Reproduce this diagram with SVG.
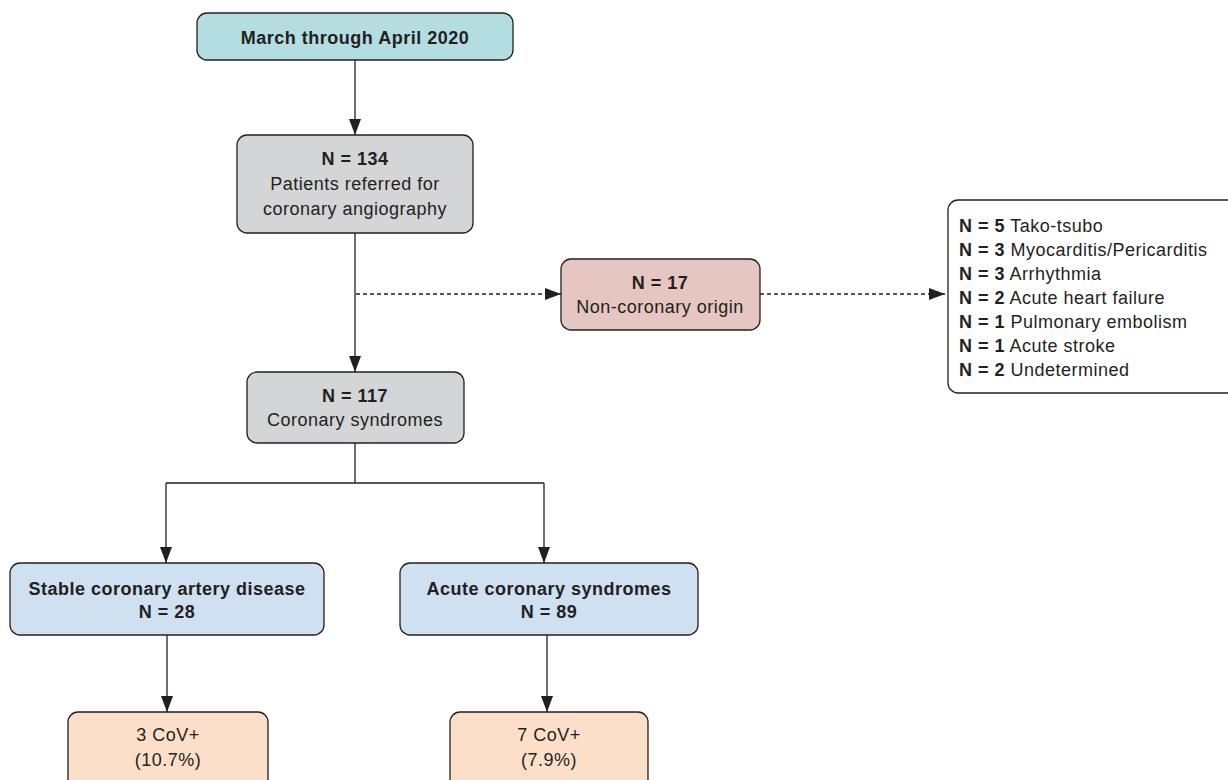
<svg xmlns="http://www.w3.org/2000/svg" width="1228" height="780" viewBox="0 0 1228 780">
<defs>
<marker id="ah" markerWidth="16" markerHeight="12" refX="16" refY="6" orient="auto" markerUnits="userSpaceOnUse">
<path d="M0,0 L16,6 L0,12 Z" fill="#231f20"/>
</marker>
<style>
.box{stroke:#231f20;stroke-width:1.3}
.t{font-family:"Liberation Sans",Arial,sans-serif;font-size:18px;letter-spacing:0.5px;fill:#231f20;text-anchor:middle}
.l{font-family:"Liberation Sans",Arial,sans-serif;font-size:18px;letter-spacing:0.5px;fill:#231f20}
.b{font-weight:bold}
.c{fill:none;stroke:#231f20;stroke-width:1.3}
.d{stroke-dasharray:4 3}
</style>
</defs>
<rect width="1228" height="780" fill="#fff"/>
<g id="connectors">
<path class="c" d="M355,60 V135" marker-end="url(#ah)"/>
<path class="c" d="M355,233 V372" marker-end="url(#ah)"/>
<path class="c d" d="M356,294 H561" marker-end="url(#ah)"/>
<path class="c d" d="M760,294 H945" marker-end="url(#ah)"/>
<path class="c" d="M355,443 V483"/>
<path class="c" d="M166,483 H544"/>
<path class="c" d="M166,483 V563" marker-end="url(#ah)"/>
<path class="c" d="M544,483 V563" marker-end="url(#ah)"/>
<path class="c" d="M167,635 V712" marker-end="url(#ah)"/>
<path class="c" d="M547,635 V712" marker-end="url(#ah)"/>
</g>
<g id="n-march">
<rect class="box" x="197" y="13" width="316" height="47" rx="10" fill="#b3dde1"/>
<text class="t b" x="355" y="44">March through April 2020</text>
</g>
<g id="n-134">
<rect class="box" x="237" y="135" width="236" height="98" rx="10" fill="#d4d5d7"/>
<text class="t b" x="355" y="165">N = 134</text>
<text class="t" x="355" y="190">Patients referred for</text>
<text class="t" x="355" y="215">coronary angiography</text>
</g>
<g id="n-17">
<rect class="box" x="561" y="259" width="199" height="71" rx="10" fill="#e6c6c1"/>
<text class="t b" x="660" y="289">N = 17</text>
<text class="t" x="660" y="313">Non-coronary origin</text>
</g>
<g id="n-list">
<rect class="box" x="948" y="200" width="290" height="193" rx="10" fill="#fff"/>
<text class="l" x="959" y="232"><tspan class="b">N = 5</tspan> Tako-tsubo</text>
<text class="l" x="959" y="256"><tspan class="b">N = 3</tspan> Myocarditis/Pericarditis</text>
<text class="l" x="959" y="280"><tspan class="b">N = 3</tspan> Arrhythmia</text>
<text class="l" x="959" y="304"><tspan class="b">N = 2</tspan> Acute heart failure</text>
<text class="l" x="959" y="328"><tspan class="b">N = 1</tspan> Pulmonary embolism</text>
<text class="l" x="959" y="352"><tspan class="b">N = 1</tspan> Acute stroke</text>
<text class="l" x="959" y="376"><tspan class="b">N = 2</tspan> Undetermined</text>
</g>
<g id="n-117">
<rect class="box" x="247" y="372" width="217" height="71" rx="10" fill="#d4d5d7"/>
<text class="t b" x="355" y="402">N = 117</text>
<text class="t" x="355" y="426">Coronary syndromes</text>
</g>
<g id="n-stable">
<rect class="box" x="10" y="563" width="314" height="72" rx="10" fill="#cfe0f0"/>
<text class="t b" x="167" y="595">Stable coronary artery disease</text>
<text class="t b" x="167" y="618">N = 28</text>
</g>
<g id="n-acute">
<rect class="box" x="400" y="563" width="298" height="72" rx="10" fill="#cfe0f0"/>
<text class="t b" x="549" y="595">Acute coronary syndromes</text>
<text class="t b" x="549" y="618">N = 89</text>
</g>
<g id="n-cov3">
<rect class="box" x="68" y="712" width="200" height="80" rx="10" fill="#fbdfc9"/>
<text class="t" x="168" y="741">3 CoV+</text>
<text class="t" x="168" y="766">(10.7%)</text>
</g>
<g id="n-cov7">
<rect class="box" x="450" y="712" width="198" height="80" rx="10" fill="#fbdfc9"/>
<text class="t" x="549" y="741">7 CoV+</text>
<text class="t" x="549" y="766">(7.9%)</text>
</g>
</svg>
